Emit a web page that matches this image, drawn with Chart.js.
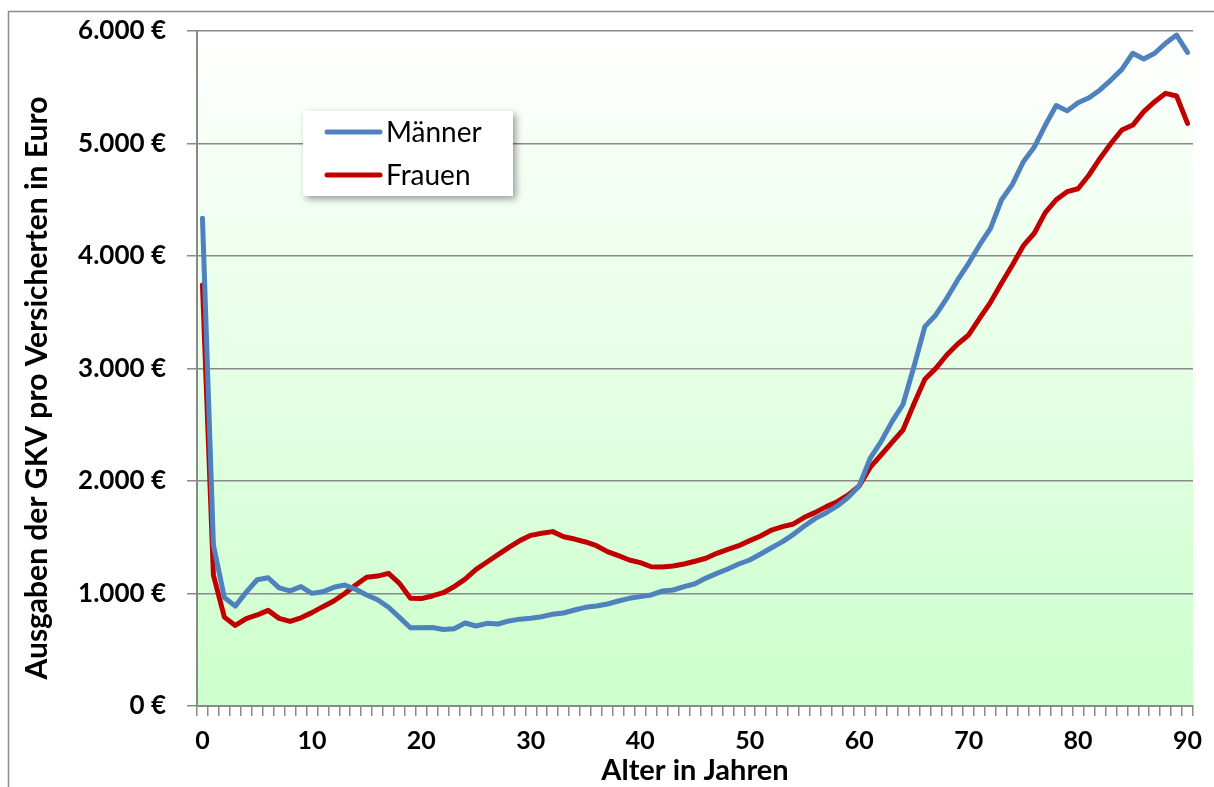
<!DOCTYPE html>
<html lang="de">
<head>
<meta charset="utf-8">
<title>GKV-Ausgaben je Versicherten nach Alter</title>
<script src="https://cdn.jsdelivr.net/npm/chart.js@4.4.1/dist/chart.umd.min.js"></script>
<style>
  html, body { margin: 0; padding: 0; background: #ffffff; }
  canvas { display: block; }
</style>
</head>
<body>
<canvas id="chart" width="1214" height="787"></canvas>
<script>
// Alter in Jahren (Kategorien der x-Achse)
const ages = [
   0,  1,  2,  3,  4,  5,  6,  7,  8,  9,
  10, 11, 12, 13, 14, 15, 16, 17, 18, 19,
  20, 21, 22, 23, 24, 25, 26, 27, 28, 29,
  30, 31, 32, 33, 34, 35, 36, 37, 38, 39,
  40, 41, 42, 43, 44, 45, 46, 47, 48, 49,
  50, 51, 52, 53, 54, 55, 56, 57, 58, 59,
  60, 61, 62, 63, 64, 65, 66, 67, 68, 69,
  70, 71, 72, 73, 74, 75, 76, 77, 78, 79,
  80, 81, 82, 83, 84, 85, 86, 87, 88, 89,
  90
];

// Ausgaben pro Versicherten in Euro – Männer
const maenner = [
  4335, 1430,  965,  888, 1012, 1122, 1140, 1050, 1024, 1061,
  1001, 1016, 1055, 1075, 1037,  987,  944,  878,  788,  696,
   696,  698,  680,  687,  738,  711,  735,  729,  756,  772,
   780,  794,  816,  827,  853,  877,  889,  907,  933,  957,
   972,  987, 1022, 1031, 1061, 1087, 1137, 1179, 1218, 1262,
  1298, 1351, 1407, 1461, 1526, 1600, 1668, 1718, 1778, 1855,
  1956, 2201, 2350, 2528, 2680, 3016, 3372, 3476, 3624, 3787,
  3935, 4098, 4246, 4498, 4637, 4838, 4968, 5162, 5338, 5290,
  5363, 5407, 5476, 5564, 5659, 5802, 5751, 5802, 5891, 5964,
  5810
];

// Ausgaben pro Versicherten in Euro – Frauen
const frauen = [
  3742, 1164,  790,  716,  776,  809,  850,  779,  752,  784,
   830,  883,  933, 1000, 1075, 1144, 1155, 1179, 1090,  957,
   955,  978, 1007, 1061, 1128, 1215, 1280, 1345, 1410, 1470,
  1517, 1535, 1550, 1505, 1484, 1458, 1425, 1372, 1336, 1298,
  1274, 1238, 1236, 1244, 1262, 1287, 1313, 1357, 1393, 1425,
  1470, 1511, 1564, 1594, 1618, 1677, 1721, 1772, 1816, 1876,
  1956, 2121, 2231, 2344, 2453, 2685, 2904, 3001, 3120, 3218,
  3298, 3446, 3588, 3757, 3920, 4092, 4202, 4385, 4500, 4572,
  4598, 4720, 4867, 5000, 5120, 5164, 5283, 5372, 5446, 5422,
  5179
];

// Beschriftete Alterswerte der x-Achse und Werte der y-Achse
const xTickAges = [0, 10, 20, 30, 40, 50, 60, 70, 80, 90];
const yTickValues = [0, 1000, 2000, 3000, 4000, 5000, 6000];

const seriesNames = ['Männer', 'Frauen'];
const xTitle = 'Alter in Jahren';
const yTitle = 'Ausgaben der GKV pro Versicherten in Euro';

const BLUE = '#4F81BD';
const RED = '#C00000';
const AXIS_GREY = '#898989';

function euro(v) {
  const s = String(Math.round(v)).replace(/\B(?=(\d{3})+(?!\d))/g, '.');
  return s + ' €';
}

// Rahmen, weißer Hintergrund und Farbverlauf im Diagrammbereich
const backdrop = {
  id: 'backdrop',
  beforeDraw(chart) {
    const { ctx, chartArea: a, width, height } = chart;
    ctx.save();
    ctx.fillStyle = '#ffffff';
    ctx.fillRect(0, 0, width, height);
    ctx.strokeStyle = '#8c8c8c';
    ctx.lineWidth = 1.5;
    ctx.strokeRect(8.5, 11.5, width + 40, height + 40);
    const g = ctx.createLinearGradient(0, a.top, 0, a.bottom);
    g.addColorStop(0, '#ffffff');
    g.addColorStop(1, '#ccffcc');
    ctx.fillStyle = g;
    ctx.fillRect(a.left, a.top, a.right - a.left, a.bottom - a.top);
    ctx.restore();
  }
};

// Achsentitel
const axisTitles = {
  id: 'axisTitles',
  afterDraw(chart) {
    const { ctx, chartArea: a } = chart;
    ctx.save();
    ctx.fillStyle = '#000000';
    ctx.textAlign = 'center';
    ctx.textBaseline = 'middle';
    ctx.font = 'bold 29px Lato';
    ctx.fillText(xTitle, (a.left + a.right) / 2, 771);
    ctx.font = 'bold 30px Lato';
    ctx.translate(37, 388);
    ctx.rotate(-Math.PI / 2);
    ctx.fillText(yTitle, 0, 0);
    ctx.restore();
  }
};

// Legende im Diagrammbereich mit Schatten
const boxedLegend = {
  id: 'boxedLegend',
  afterDraw(chart) {
    const { ctx } = chart;
    const box = { x: 303, y: 111, w: 210, h: 85 };
    ctx.save();
    ctx.shadowColor = 'rgba(0,0,0,0.38)';
    ctx.shadowBlur = 7;
    ctx.shadowOffsetX = 3;
    ctx.shadowOffsetY = 3;
    ctx.fillStyle = '#ffffff';
    ctx.fillRect(box.x, box.y, box.w, box.h);
    ctx.restore();

    ctx.save();
    ctx.font = '28px Lato';
    ctx.textBaseline = 'alphabetic';
    ctx.textAlign = 'left';
    ctx.lineCap = 'round';
    chart.data.datasets.forEach((ds, i) => {
      const y = 132 + i * 43;
      ctx.strokeStyle = ds.borderColor;
      ctx.lineWidth = 5;
      ctx.beginPath();
      ctx.moveTo(327, y);
      ctx.lineTo(380, y);
      ctx.stroke();
      ctx.fillStyle = '#000000';
      ctx.fillText(ds.label, 386, y + 10);
    });
    ctx.restore();
  }
};

new Chart(document.getElementById('chart'), {
  type: 'line',
  data: {
    labels: ages,
    datasets: [
      { label: seriesNames[0], data: maenner, borderColor: BLUE, backgroundColor: BLUE },
      { label: seriesNames[1], data: frauen, borderColor: RED, backgroundColor: RED }
    ]
  },
  options: {
    responsive: false,
    animation: false,
    devicePixelRatio: 1,
    layout: { padding: { left: 10, top: 31, right: 21, bottom: 0 } },
    elements: {
      line: { borderWidth: 5, tension: 0, borderCapStyle: 'round', borderJoinStyle: 'round', fill: false },
      point: { radius: 0, hoverRadius: 0 }
    },
    plugins: {
      legend: { display: false },
      tooltip: { enabled: false },
      title: { display: false }
    },
    scales: {
      x: {
        type: 'category',
        offset: true,
        afterFit(scale) { scale.height = 81; },
        grid: {
          offset: true,
          drawOnChartArea: false,
          drawTicks: true,
          tickLength: 10,
          color: AXIS_GREY,
          lineWidth: 1.5
        },
        border: { color: AXIS_GREY, width: 2 },
        ticks: {
          autoSkip: false,
          maxRotation: 0,
          minRotation: 0,
          padding: 10,
          color: '#000000',
          font: { family: 'Lato', weight: 'bold', size: 25 },
          callback(value, index) {
            const age = ages[index];
            return xTickAges.includes(age) ? String(age) : '';
          }
        }
      },
      y: {
        min: yTickValues[0],
        max: yTickValues[yTickValues.length - 1],
        afterFit(scale) {
          scale.width = 187;
          scale.paddingTop = 0;
          scale.paddingBottom = 0;
        },
        afterBuildTicks(scale) { scale.ticks = yTickValues.map(v => ({ value: v })); },
        grid: {
          color: AXIS_GREY,
          lineWidth: 1.5,
          tickLength: 10,
          drawTicks: true
        },
        border: { color: AXIS_GREY, width: 2 },
        ticks: {
          padding: 21,
          color: '#000000',
          font: { family: 'Lato', weight: 'bold', size: 26 },
          callback(value) { return euro(value); }
        }
      }
    }
  },
  plugins: [backdrop, axisTitles, boxedLegend]
});
</script>
</body>
</html>
